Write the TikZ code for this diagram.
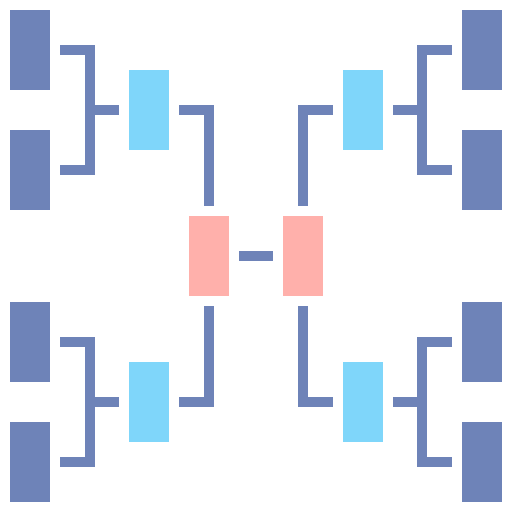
\documentclass[tikz,border=0pt]{standalone}
\usetikzlibrary{positioning}

\definecolor{teamblue}{HTML}{6E83B8}
\definecolor{semiblue}{HTML}{7FD6FA}
\definecolor{finalpink}{HTML}{FFB0AB}

\begin{document}
\begin{tikzpicture}[x=1pt, y=-1pt,
    team/.style={rectangle, fill=teamblue, minimum width=40pt, minimum height=80pt, inner sep=0pt},
    semi/.style={team, fill=semiblue},
    final/.style={team, fill=finalpink},
    link/.style={draw=teamblue, line width=10pt, line join=miter}]
    \useasboundingbox (0,0) rectangle (512,512);

    % first round
    \node[team] (t_1) at (30,50) {};
    \node[team] (t_2) at (30,170) {};
    \node[team] (t_3) at (30,342) {};
    \node[team] (t_4) at (30,462) {};
    \node[team] (t_5) at (482,50) {};
    \node[team] (t_6) at (482,170) {};
    \node[team] (t_7) at (482,342) {};
    \node[team] (t_8) at (482,462) {};

    % semi finals
    \node[semi] (s_1) at (149,110) {};
    \node[semi] (s_2) at (149,402) {};
    \node[semi] (s_3) at (363,110) {};
    \node[semi] (s_4) at (363,402) {};

    % final
    \node[final] (f_1) at (209,256) {};
    \node[final] (f_2) [right=54pt of f_1] {};

    % brackets, left
    \draw[link] ([xshift=10pt]t_1.east) -| ([xshift=40pt]t_2.east) -- ([xshift=10pt]t_2.east);
    \draw[link] ([xshift=40pt]t_1.east |- s_1.west) -- ([xshift=-10pt]s_1.west);
    \draw[link] ([xshift=10pt]t_3.east) -| ([xshift=40pt]t_4.east) -- ([xshift=10pt]t_4.east);
    \draw[link] ([xshift=40pt]t_3.east |- s_2.west) -- ([xshift=-10pt]s_2.west);

    % brackets, right
    \draw[link] ([xshift=-10pt]t_5.west) -| ([xshift=-40pt]t_6.west) -- ([xshift=-10pt]t_6.west);
    \draw[link] ([xshift=-40pt]t_5.west |- s_3.east) -- ([xshift=10pt]s_3.east);
    \draw[link] ([xshift=-10pt]t_7.west) -| ([xshift=-40pt]t_8.west) -- ([xshift=-10pt]t_8.west);
    \draw[link] ([xshift=-40pt]t_7.west |- s_4.east) -- ([xshift=10pt]s_4.east);

    % into the final
    \draw[link] ([xshift=10pt]s_1.east) -| ([yshift=10pt]f_1.north);
    \draw[link] ([xshift=10pt]s_2.east) -| ([yshift=-10pt]f_1.south);
    \draw[link] ([xshift=-10pt]s_3.west) -| ([yshift=10pt]f_2.north);
    \draw[link] ([xshift=-10pt]s_4.west) -| ([yshift=-10pt]f_2.south);
    \draw[link] ([xshift=10pt]f_1.east) -- ([xshift=-10pt]f_2.west);

\end{tikzpicture}
\end{document}
